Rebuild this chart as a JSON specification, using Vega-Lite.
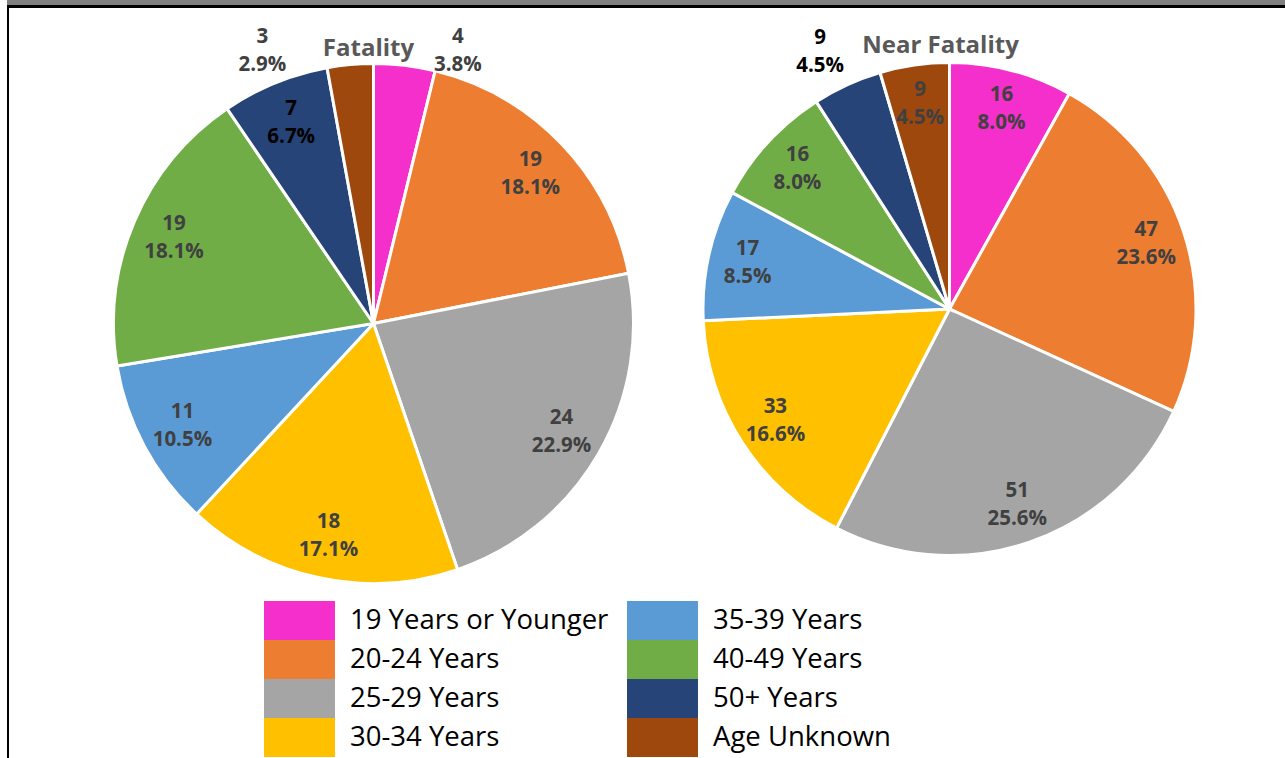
{
  "$schema": "https://vega.github.io/schema/vega-lite/v6.json",
  "autosize": {"type": "pad"},
  "padding": {"left": 7, "top": 0, "right": 0, "bottom": 0},
  "background": "white",
  "spacing": 0,
  "bounds": "flush",
  "config": {"view": {"stroke": null}, "font": "Open Sans", "concat": {"spacing": 0}},
  "datasets": {
    "ages": [
      {"chart": "Fatality", "age": "19 Years or Younger", "n": 4, "pct": "3.8%"},
      {"chart": "Fatality", "age": "20-24 Years", "n": 19, "pct": "18.1%"},
      {"chart": "Fatality", "age": "25-29 Years", "n": 24, "pct": "22.9%"},
      {"chart": "Fatality", "age": "30-34 Years", "n": 18, "pct": "17.1%"},
      {"chart": "Fatality", "age": "35-39 Years", "n": 11, "pct": "10.5%"},
      {"chart": "Fatality", "age": "40-49 Years", "n": 19, "pct": "18.1%"},
      {"chart": "Fatality", "age": "50+ Years", "n": 7, "pct": "6.7%"},
      {"chart": "Fatality", "age": "Age Unknown", "n": 3, "pct": "2.9%"},
      {"chart": "Near Fatality", "age": "19 Years or Younger", "n": 16, "pct": "8.0%"},
      {"chart": "Near Fatality", "age": "20-24 Years", "n": 47, "pct": "23.6%"},
      {"chart": "Near Fatality", "age": "25-29 Years", "n": 51, "pct": "25.6%"},
      {"chart": "Near Fatality", "age": "30-34 Years", "n": 33, "pct": "16.6%"},
      {"chart": "Near Fatality", "age": "35-39 Years", "n": 17, "pct": "8.5%"},
      {"chart": "Near Fatality", "age": "40-49 Years", "n": 16, "pct": "8.0%"},
      {"chart": "Near Fatality", "age": "50+ Years", "n": 9, "pct": "4.5%"},
      {"chart": "Near Fatality", "age": "Age Unknown", "n": 9, "pct": "4.5%"}
    ]
  },
  "resolve": {"scale": {"color": "shared"}, "legend": {"color": "shared"}},
  "vconcat": [
    {"width": 1278, "height": 5, "data": {"values": [{}]}, "mark": {"type": "rect", "color": "#808080"}, "encoding": {}},
    {"width": 1278, "height": 3, "data": {"values": [{}]}, "mark": {"type": "rect", "color": "#000000"}, "encoding": {}},
    {
      "spacing": 0,
      "bounds": "flush",
      "resolve": {"scale": {"theta": "independent"}},
      "hconcat": [
        {"width": 2, "height": 750, "data": {"values": [{}]}, "mark": {"type": "rect", "color": "#000000"}, "encoding": {}},
        {
          "width": 729, "height": 631,
          "title": {"text": "Fatality", "anchor": "middle", "frame": "group", "offset": -72, "baseline": "alphabetic", "dx": -5, "fontSize": 24, "fontWeight": "bold", "color": "#595959", "font": "Open Sans"},
          "data": {"name": "ages"},
          "transform": [{"filter": "datum.chart == 'Fatality'"}],
          "encoding": {
            "theta": {"field": "n", "type": "quantitative", "stack": true},
            "order": {"field": "age", "type": "nominal", "sort": "ascending"}
          },
          "layer": [
            {
              "mark": {"type": "arc", "outerRadius": 260, "stroke": "white", "strokeWidth": 3},
              "encoding": {
                "color": {
                  "field": "age", "type": "nominal",
                  "scale": {
                    "domain": ["19 Years or Younger", "20-24 Years", "25-29 Years", "30-34 Years", "35-39 Years", "40-49 Years", "50+ Years", "Age Unknown"],
                    "range": ["#F52FCB", "#ED7D31", "#A5A5A5", "#FFC000", "#5B9BD5", "#70AD47", "#264478", "#9E480E"]
                  },
                  "legend": {
                    "orient": "none", "legendX": 273, "legendY": 601, "columns": 2, "title": null,
                    "symbolType": "M-1.82,-1H1.82V1H-1.82Z", "symbolSize": 1521, "symbolStrokeWidth": 0, "symbolOpacity": 1,
                    "labelFont": "Open Sans", "labelFontSize": 27.5, "labelColor": "#000000", "labelOffset": 31, "labelLimit": 0,
                    "rowPadding": 0, "columnPadding": 18
                  }
                }
              }
            },
            {
              "transform": [{"calculate": "datum.age == '19 Years or Younger' || datum.age == 'Age Unknown' ? '' : [datum.n + '', datum.pct]", "as": "label"}],
              "mark": {"type": "text", "radius": 217, "dy": -14, "fontSize": 20.5, "fontWeight": "bold", "font": "Open Sans", "lineHeight": 28, "baseline": "middle", "align": "center"},
              "encoding": {
                "detail": {"field": "age", "type": "nominal"},
                "text": {"field": "label", "type": "nominal"},
                "color": {"condition": {"test": "datum.age == '50+ Years'", "value": "#000000"}, "value": "#404040"}
              }
            },
            {
              "transform": [{"calculate": "datum.age == 'Age Unknown' ? [datum.n + '', datum.pct] : ''", "as": "label"}],
              "mark": {"type": "text", "radius": 280, "dx": -86, "dy": -8, "fontSize": 20.5, "fontWeight": "bold", "font": "Open Sans", "lineHeight": 28, "baseline": "middle", "align": "center", "color": "#404040"},
              "encoding": {
                "detail": {"field": "age", "type": "nominal"},
                "text": {"field": "label", "type": "nominal"}
              }
            },
            {
              "transform": [{"calculate": "datum.age == '19 Years or Younger' ? [datum.n + '', datum.pct] : ''", "as": "label"}],
              "mark": {"type": "text", "radius": 280, "dx": 51, "dy": -9, "fontSize": 20.5, "fontWeight": "bold", "font": "Open Sans", "lineHeight": 28, "baseline": "middle", "align": "center", "color": "#404040"},
              "encoding": {
                "detail": {"field": "age", "type": "nominal"},
                "text": {"field": "label", "type": "nominal"}
              }
            }
          ]
        },
        {
          "width": 423, "height": 602,
          "title": {"text": "Near Fatality", "anchor": "middle", "frame": "group", "offset": -72, "baseline": "alphabetic", "dx": -9, "fontSize": 24, "fontWeight": "bold", "color": "#595959", "font": "Open Sans"},
          "data": {"name": "ages"},
          "transform": [{"filter": "datum.chart == 'Near Fatality'"}],
          "encoding": {
            "theta": {"field": "n", "type": "quantitative", "stack": true},
            "order": {"field": "age", "type": "nominal", "sort": "ascending"}
          },
          "layer": [
            {
              "mark": {"type": "arc", "outerRadius": 246.5, "stroke": "white", "strokeWidth": 3},
              "encoding": {
                "color": {"field": "age", "type": "nominal"}
              }
            },
            {
              "transform": [{"calculate": "datum.age == '50+ Years' ? '' : [datum.n + '', datum.pct]", "as": "label"}],
              "mark": {"type": "text", "radius": 207, "dy": -14, "fontSize": 20.5, "fontWeight": "bold", "font": "Open Sans", "lineHeight": 28, "baseline": "middle", "align": "center", "color": "#404040"},
              "encoding": {
                "detail": {"field": "age", "type": "nominal"},
                "text": {"field": "label", "type": "nominal"}
              }
            },
            {
              "transform": [{"calculate": "datum.age == '50+ Years' ? [datum.n + '', datum.pct] : ''", "as": "label"}],
              "mark": {"type": "text", "radius": 285, "dx": -11, "dy": -12, "fontSize": 20.5, "fontWeight": "bold", "font": "Open Sans", "lineHeight": 28, "baseline": "middle", "align": "center", "color": "#000000"},
              "encoding": {
                "detail": {"field": "age", "type": "nominal"},
                "text": {"field": "label", "type": "nominal"}
              }
            }
          ]
        }
      ]
    }
  ]
}
